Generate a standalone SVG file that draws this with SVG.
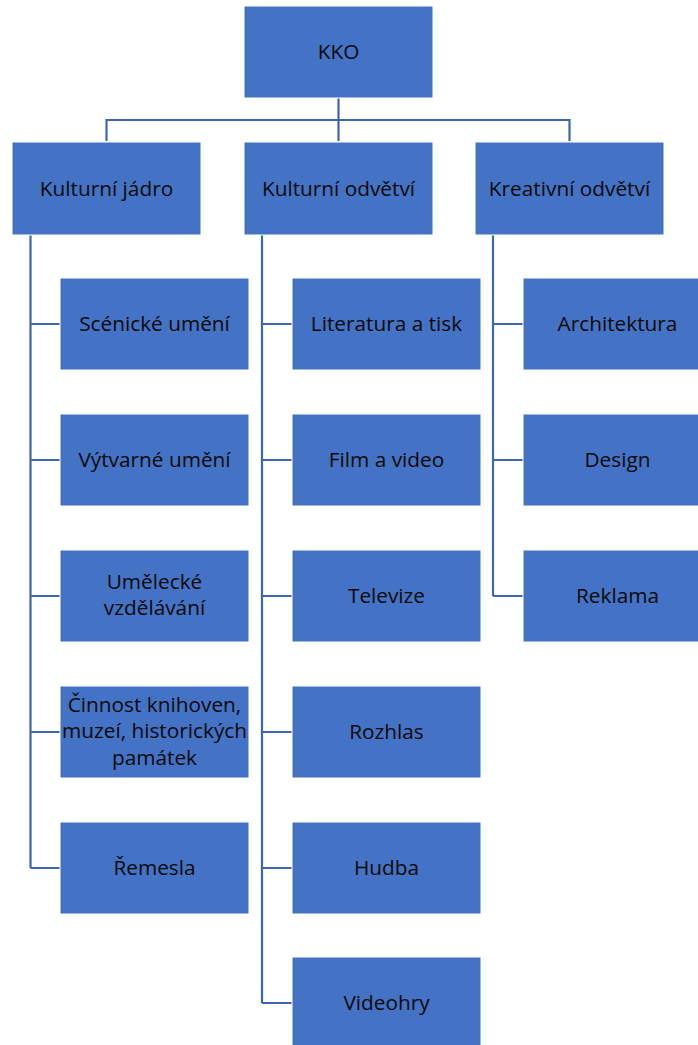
<svg xmlns="http://www.w3.org/2000/svg" width="698" height="1045" viewBox="0 0 698 1045">
<style>
.box{fill:#4472C4;stroke:#ffffff;stroke-width:1}
.t{font-family:"Open Sans","Noto Sans","Liberation Sans",sans-serif;font-size:20.8px;fill:#0a0a0a;text-anchor:middle}
.c{fill:none;stroke:#3C66AE;stroke-width:2.2}
</style>
<rect width="698" height="1045" fill="#ffffff"/>
<g id="connectors">
<path class="c" d="M338.5 98V120M106.5 141V120H569.5V141M338.5 120V141"/>
<path class="c" d="M30.5 235V868M30.5 324H60M30.5 460H60M30.5 596H60M30.5 732H60M30.5 868H60"/>
<path class="c" d="M262 235V1003M262 324H292M262 460H292M262 596H292M262 732H292M262 868H292M262 1003H292"/>
<path class="c" d="M493 235V596M493 324H523M493 460H523M493 596H523"/>
</g>
<g id="n-kko"><rect class="box" x="244" y="6" width="189" height="92"/><text class="t" x="338.5" y="59">KKO</text></g>
<g id="n-jadro"><rect class="box" x="12" y="142" width="189" height="93"/><text class="t" x="106.5" y="196">Kulturní jádro</text></g>
<g id="n-odvetvi"><rect class="box" x="244" y="142" width="189" height="93"/><text class="t" x="338.5" y="196">Kulturní odvětví</text></g>
<g id="n-kreativni"><rect class="box" x="475" y="142" width="189" height="93"/><text class="t" x="569.5" y="196">Kreativní odvětví</text></g>

<g id="n-scenicke"><rect class="box" x="60" y="278" width="189" height="92"/><text class="t" x="154.5" y="331">Scénické umění</text></g>
<g id="n-vytvarne"><rect class="box" x="60" y="414" width="189" height="92"/><text class="t" x="154.5" y="467">Výtvarné umění</text></g>
<g id="n-umelecke"><rect class="box" x="60" y="550" width="189" height="92"/><text class="t" x="154.5" y="589">Umělecké</text><text class="t" x="154.5" y="615">vzdělávání</text></g>
<g id="n-cinnost"><rect class="box" x="60" y="686" width="189" height="92"/><text class="t" x="154.5" y="712">Činnost knihoven,</text><text class="t" x="154.5" y="738">muzeí, historických</text><text class="t" x="154.5" y="765">památek</text></g>
<g id="n-remesla"><rect class="box" x="60" y="822" width="189" height="92"/><text class="t" x="154.5" y="875">Řemesla</text></g>

<g id="n-literatura"><rect class="box" x="292" y="278" width="189" height="92"/><text class="t" x="386.5" y="331">Literatura a tisk</text></g>
<g id="n-film"><rect class="box" x="292" y="414" width="189" height="92"/><text class="t" x="386.5" y="467">Film a video</text></g>
<g id="n-televize"><rect class="box" x="292" y="550" width="189" height="92"/><text class="t" x="386.5" y="603">Televize</text></g>
<g id="n-rozhlas"><rect class="box" x="292" y="686" width="189" height="92"/><text class="t" x="386.5" y="739">Rozhlas</text></g>
<g id="n-hudba"><rect class="box" x="292" y="822" width="189" height="92"/><text class="t" x="386.5" y="875">Hudba</text></g>
<g id="n-videohry"><rect class="box" x="292" y="957" width="189" height="92"/><text class="t" x="386.5" y="1010">Videohry</text></g>

<g id="n-architektura"><rect class="box" x="523" y="278" width="189" height="92"/><text class="t" x="617.5" y="331">Architektura</text></g>
<g id="n-design"><rect class="box" x="523" y="414" width="189" height="92"/><text class="t" x="617.5" y="467">Design</text></g>
<g id="n-reklama"><rect class="box" x="523" y="550" width="189" height="92"/><text class="t" x="617.5" y="603">Reklama</text></g>
</svg>
